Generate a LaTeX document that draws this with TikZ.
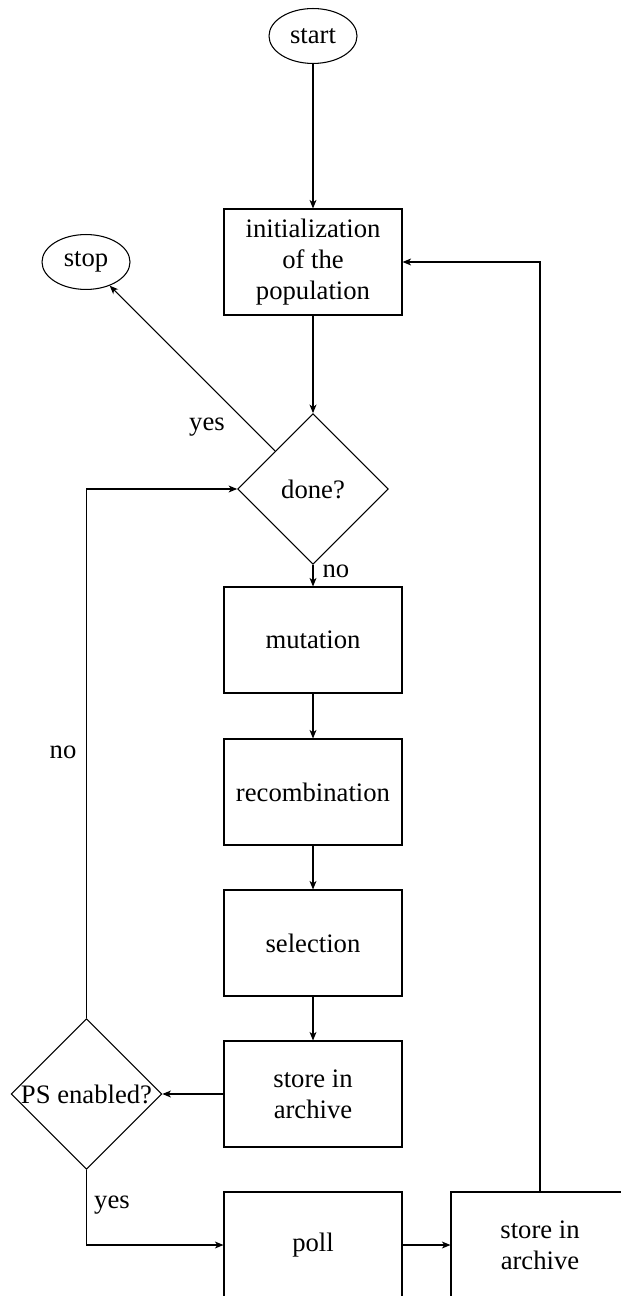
\documentclass[tikz,border=0pt]{standalone}
\usepackage{fontspec}
\setmainfont{Liberation Serif}
\usetikzlibrary{shapes.geometric,arrows.meta}

\tikzset{
  every picture/.style={x=0.375pt,y=-0.375pt},
  stepbox/.style={draw,line width=0.4pt,minimum width=66.75pt,minimum height=39.75pt,
    inner sep=0pt,align=center,font=\fontsize{10}{11.6}\selectfont},
  terminal/.style={draw,ellipse,line width=0.4pt,minimum width=33pt,minimum height=20.6pt,
    inner sep=0pt,font=\fontsize{10}{12}\selectfont},
  decision/.style={draw,diamond,line width=0.4pt,minimum width=56.5pt,minimum height=56.5pt,
    inner sep=0pt,font=\fontsize{10}{12}\selectfont},
  flow/.style={line width=0.4pt,-{Stealth[length=3.2pt,width=2.6pt,inset=0.9pt]}},
  edgelabel/.style={inner sep=0pt,font=\fontsize{10}{12}\selectfont}
}

\begin{document}
\begin{tikzpicture}
  \useasboundingbox (0,0) rectangle (621,1296);

  % terminals
  \node[terminal] (start) at (313,36) {start};
  \node[terminal] (stop) at (86,262) {stop};

  % main column
  \node[stepbox] (init) at (313,262) {initialization\\of the\\population};
  \node[decision] (done) at (313,489) {\makebox[0pt]{done?}};
  \node[stepbox] (mut) at (313,640) {mutation};
  \node[stepbox] (rec) at (313,792) {recombination};
  \node[stepbox] (sel) at (313,943) {selection};
  \node[stepbox] (arch) at (313,1094) {store in\\archive};
  \node[decision] (ps) at (86.5,1094) {\makebox[0pt]{PS enabled?}};
  \node[stepbox] (poll) at (313,1245) {poll};
  \node[stepbox] (arch2) at (540,1245) {store in\\archive};

  % connectors
  \draw[flow] (start) -- (init);
  \draw[flow] (init) -- (done);
  \draw[flow] (done.north west) -- (stop);
  \draw[flow] (done) -- (mut);
  \draw[flow] (mut) -- (rec);
  \draw[flow] (rec) -- (sel);
  \draw[flow] (sel) -- (arch);
  \draw[flow] (arch) -- (ps);
  \draw[flow] (ps.north) |- (done.west);
  \draw[flow] (ps.south) |- (poll.west);
  \draw[flow] (poll) -- (arch2);
  \draw[flow] (arch2.north) |- (init.east);

  % branch labels
  \node[edgelabel] (lyes1) at (207,427) {yes};
  \node[edgelabel,anchor=west] (lno1) at (322,571) {no};
  \node[edgelabel] (lno2) at (63,752) {no};
  \node[edgelabel] (lyes2) at (112,1205) {yes};
\end{tikzpicture}
\end{document}
